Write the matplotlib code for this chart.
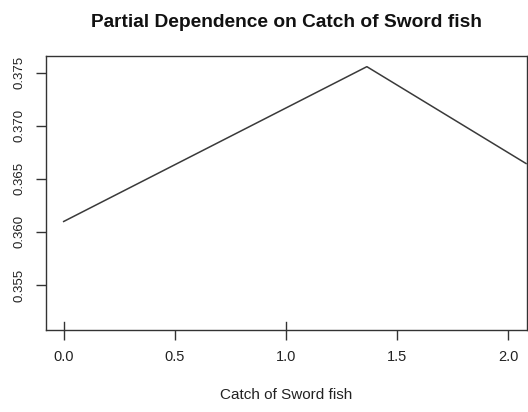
import numpy as np
import matplotlib
matplotlib.use("Agg")
import matplotlib.pyplot as plt

plt.rcParams['font.family'] = ['Liberation Sans', 'DejaVu Sans']

# partial dependence values
catch = [0.0, 1.364, 2.08]
pdep = [0.36098, 0.37556, 0.36644]
rug_x = [0.0, 1.0]

xticks = [0.0, 0.5, 1.0, 1.5, 2.0]
yticks = [0.355, 0.360, 0.365, 0.370, 0.375]

fig = plt.figure(figsize=(5.28, 4.12), dpi=100)
ax = fig.add_axes([0.0865, 0.199, 0.911, 0.666])

ax.plot(catch, pdep, color="#3a3a3a", lw=1.1)
# rug of data deciles along the bottom
for r in rug_x:
    ax.plot([r, r], [0, 0.03], color="#333333", lw=1.0,
            transform=ax.get_xaxis_transform(), clip_on=False)

ax.set_xlim(-0.081, 2.083)
ax.set_ylim(0.35076, 0.3766)
ax.set_xticks(xticks)
ax.set_xticklabels(["%.1f" % v for v in xticks])
ax.set_yticks(yticks)
ax.set_yticklabels(["%.3f" % v for v in yticks], rotation=90, va="center")

for s in ax.spines.values():
    s.set_color("#333333")
    s.set_linewidth(1.0)
ax.tick_params(axis="both", length=7.5, width=1.0, color="#333333",
               labelcolor="#222222")
ax.tick_params(axis="x", pad=7, labelsize=10.5)
ax.tick_params(axis="y", pad=7, labelsize=9.5)

ax.set_xlabel("Catch of Sword fish", fontsize=11, color="#222222", labelpad=17)
fig.text(0.5417, 0.935, "Partial Dependence on Catch of Sword fish",
         fontsize=13.8, fontweight="bold", ha="center", va="baseline",
         color="#111111")

fig.savefig("out.png", dpi=100)
